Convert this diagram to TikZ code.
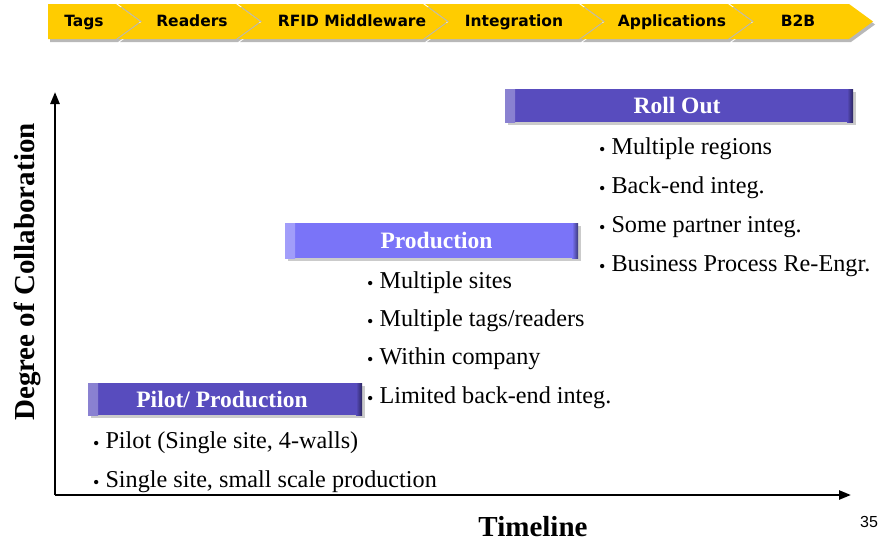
\documentclass[tikz,border=0pt]{standalone}
\usepackage{fontspec}
\setmainfont{Liberation Serif}
\newfontfamily\chevfont{DejaVu Sans}
\newfontfamily\arialfont{Liberation Sans}
\usetikzlibrary{arrows.meta,shadows}
\definecolor{chevyellow}{RGB}{255,204,0}
\definecolor{darkbar}{RGB}{88,76,190}
\definecolor{lightbar}{RGB}{122,116,248}
\newcommand\chevshape[3]{(#1,#3+4) -- (#2,#3+4) -- (#2+24,#3+21.5) -- (#2,#3+39) -- (#1,#3+39) -- (#1+24,#3+21.5) -- cycle}
\begin{document}
\begin{tikzpicture}[x=1pt,y=-1pt,
  chevlabel/.style={font=\chevfont\bfseries\fontsize{15.5}{18}\selectfont, text=black, inner sep=0pt, anchor=base},
  barnode/.style={draw=none, text=white, inner sep=0pt,
    font=\bfseries\fontsize{23.5}{26}\selectfont,
    drop shadow={shadow xshift=3pt, shadow yshift=-3pt, fill=black!45, opacity=0.45},
    path picture={
      \shade[left color=white!30!#1, right color=#1] (path picture bounding box.north west) rectangle ([xshift=10pt]path picture bounding box.south west);
      \shade[left color=#1, right color=black!50!#1] ([xshift=-6pt]path picture bounding box.north east) rectangle (path picture bounding box.south east);
    }, fill=#1},
  item/.style={anchor=base west, inner sep=0pt, font=\fontsize{24.2}{27}\selectfont},
  axis/.style={line width=2.4pt, -{Triangle[length=12pt,width=9pt]}},
  axislabel/.style={font=\bfseries\fontsize{29}{32}\selectfont, inner sep=0pt}]
\useasboundingbox (0,0) rectangle (880,546);
\fill[white] (0,0) rectangle (880,546);

% chevron banner shadows
\fill[black!28] (50,7) -- (118,7) -- (142,24.5) -- (118,42) -- (50,42) -- cycle;
\fill[black!28] \chevshape{120}{238}{3};
\fill[black!28] \chevshape{240}{425}{3};
\fill[black!28] \chevshape{427}{581}{3};
\fill[black!28] \chevshape{583}{730}{3};
\fill[black!28] \chevshape{732}{851}{3};
% chevrons
\fill[chevyellow] (48,4) -- (116,4) -- (140,21.5) -- (116,39) -- (48,39) -- cycle;
\fill[chevyellow] \chevshape{118}{236}{0};
\fill[chevyellow] \chevshape{238}{423}{0};
\fill[chevyellow] \chevshape{425}{579}{0};
\fill[chevyellow] \chevshape{581}{728}{0};
\fill[chevyellow] \chevshape{730}{849}{0};

\node[chevlabel] (tags) at (84,27) {Tags};
\node[chevlabel] (readers) at (192,27) {Readers};
\node[chevlabel] (rfid) at (352,27) {RFID Middleware};
\node[chevlabel] (integ) at (514,27) {Integration};
\node[chevlabel] (apps) at (672,27) {Applications};
\node[chevlabel] (b2b) at (798,27) {B2B};

% axes
\coordinate (orig) at (55,495);
\coordinate (ytip) at (55,92);
\coordinate (xtip) at (851,495);
\draw[axis] (orig) -- (ytip);
\draw[axis] (orig) -- (xtip);

\node[axislabel, rotate=90] (ylab) at (27,272) {Degree of Collaboration};
\node[axislabel, anchor=base] (xlab) at (533,536) {Timeline};
\node[font=\arialfont\fontsize{16}{18}\selectfont, inner sep=0pt] (page) at (869,522) {35};

% stage bars
\node[barnode=darkbar, minimum width=348pt, minimum height=33pt] (rollout) at (679,105.5) {\hspace*{-4pt}Roll Out};
\node[barnode=lightbar, minimum width=293pt, minimum height=35pt] (production) at (431.5,240.5) {\hspace*{10pt}Production};
\node[barnode=darkbar, minimum width=274pt, minimum height=32pt] (pilot) at (225,399) {\hspace*{-6pt}Pilot/ Production};

% bullet items
\newcommand\bul{\raisebox{-1.5pt}{\fontsize{18}{18}\selectfont\textbullet}\hspace{6pt}}
\node[item] (r1) at (599,154) {\bul Multiple regions};
\node[item] (r2) at (599,193) {\bul Back-end integ.};
\node[item] (r3) at (599,232) {\bul Some partner integ.};
\node[item] (r4) at (599,271) {\bul Business Process Re-Engr.};

\node[item] (p1) at (367,288) {\bul Multiple sites};
\node[item] (p2) at (367,326) {\bul Multiple tags/readers};
\node[item] (p3) at (367,364) {\bul Within company};
\node[item] (p4) at (367,403) {\bul Limited back-end integ.};

\node[item] (l1) at (93,448) {\bul Pilot (Single site, 4-walls)};
\node[item] (l2) at (93,487) {\bul Single site, small scale production};
\end{tikzpicture}
\end{document}
